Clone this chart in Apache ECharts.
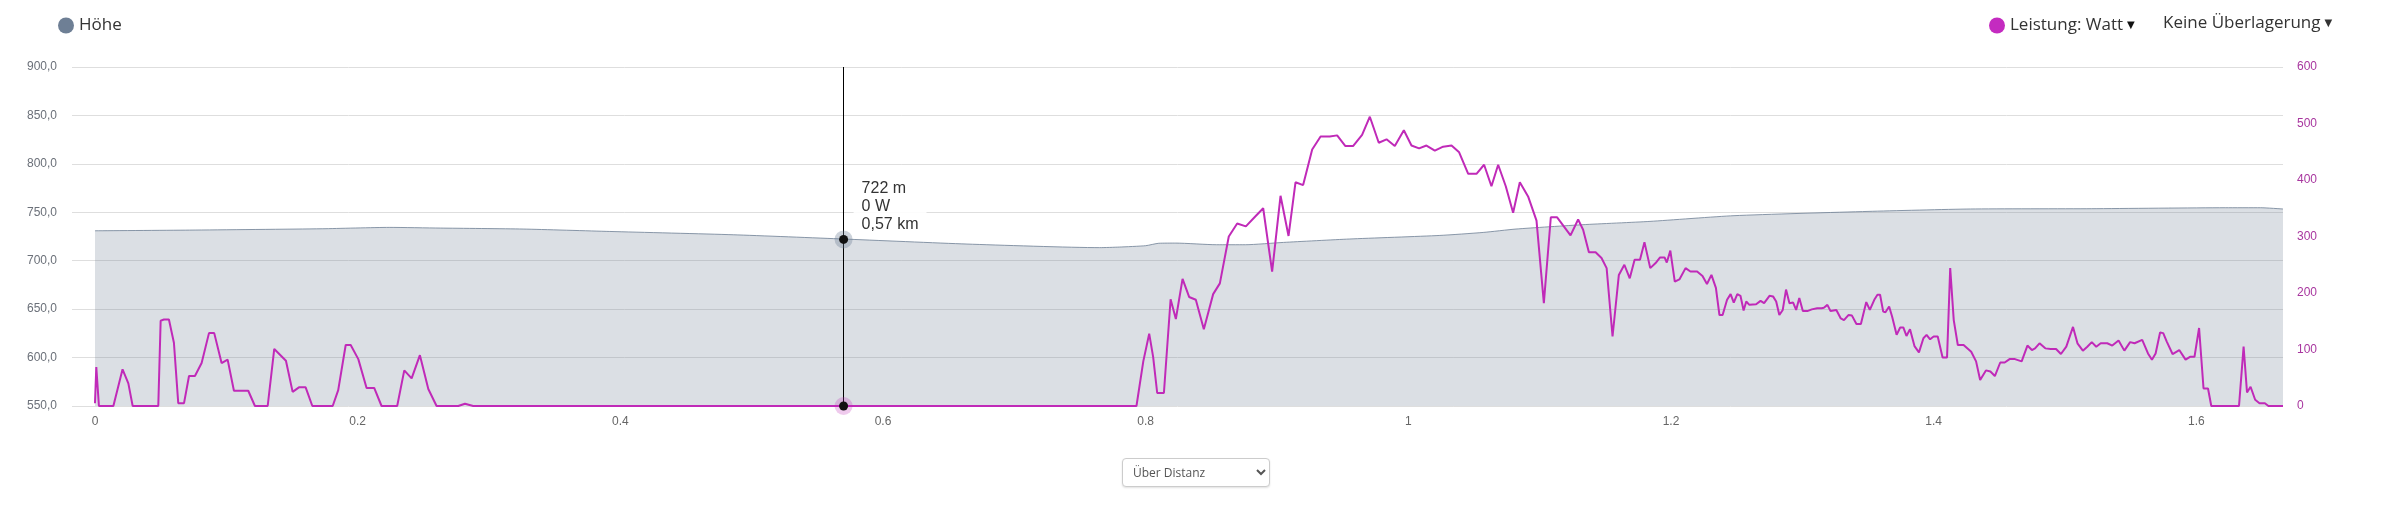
<!DOCTYPE html>
<html>
<head>
<meta charset="utf-8">
<script src="https://cdn.jsdelivr.net/npm/echarts@6/dist/echarts.min.js"></script>
<style>
html,body{margin:0;padding:0;background:#fff;}
#chart{position:absolute;left:0;top:0;width:2389px;height:511px;}
#mode{position:absolute;left:1122px;top:458px;width:148px;height:29px;font:12px 'Open Sans',sans-serif;color:#555;border:1px solid #ccc;border-radius:4px;box-shadow:0 1px 2px rgba(0,0,0,.12);background:#fff;padding:0 6px;}
</style>
</head>
<body>
<div id="chart"></div>
<select id="mode"><option>Über Distanz</option></select>
<script>
// ---- data ----
const elevKm = [0, 0.072, 0.173, 0.224, 0.263, 0.326, 0.392, 0.486, 0.57, 0.664, 0.765, 0.78, 0.80, 0.81, 0.823, 0.854, 0.876, 0.905, 0.955, 1.024, 1.057, 1.082, 1.133, 1.184, 1.248, 1.35, 1.428, 1.52, 1.622, 1.649, 1.666];
const elevM = [730.9, 731.6, 733, 734.4, 733.7, 732.7, 730.2, 726.8, 722.4, 717.2, 713.5, 714.1, 715.5, 718, 718.2, 716.5, 716.5, 718.9, 722.4, 726.1, 729.2, 732.7, 737.2, 740.6, 746.5, 750.9, 753.4, 753.7, 754.7, 754.7, 753.4];

const powerKm = [0, 0.001, 0.0025, 0.003, 0.014, 0.021, 0.0254, 0.0287, 0.0482, 0.050, 0.0525, 0.0563, 0.0601, 0.0634, 0.0678, 0.0716, 0.0761, 0.0812, 0.0868, 0.0908, 0.0964, 0.101, 0.1058, 0.1167, 0.1218, 0.1315, 0.1365, 0.1454, 0.1505, 0.1553, 0.1604, 0.1655, 0.181, 0.1852, 0.1909, 0.1947, 0.2005, 0.2068, 0.2126, 0.2182, 0.2301, 0.2355, 0.2411, 0.2474, 0.2538, 0.2601, 0.2766, 0.2817, 0.288,
  0.793, 0.7982, 0.8027, 0.8057, 0.8088, 0.8139, 0.819, 0.823, 0.8281, 0.8331, 0.8382, 0.8443, 0.8514, 0.8565, 0.8633, 0.8697, 0.8763, 0.8829, 0.8895, 0.8963, 0.9027, 0.9088, 0.9141, 0.9199, 0.9268, 0.9332, 0.9402, 0.9458, 0.9521, 0.9579, 0.9648, 0.9707, 0.9775, 0.9834, 0.9897, 0.9966, 1.0024, 1.0082, 1.0138, 1.0202, 1.0265, 1.0329, 1.0387, 1.0456, 1.0519, 1.0577, 1.0633, 1.0684, 1.0742, 1.0798, 1.0849, 1.0912, 1.0976, 1.1032, 1.1085, 1.1133, 1.1235, 1.1293, 1.1331, 1.1375, 1.1426,
  1.1471, 1.151, 1.1555, 1.1603, 1.1645, 1.1686, 1.1723, 1.1764, 1.1798, 1.1842, 1.1883, 1.1917, 1.1951, 1.1968, 1.1995, 1.2029, 1.2064, 1.2111, 1.2148, 1.2199, 1.224, 1.2274, 1.2308, 1.2342, 1.2369, 1.2393, 1.2427, 1.2454, 1.2478, 1.2505, 1.2529, 1.2553, 1.2573, 1.2597, 1.2648, 1.2682, 1.2709, 1.275, 1.2777, 1.2801, 1.2825, 1.2851, 1.2876, 1.2902, 1.293, 1.2953, 1.2977, 1.3004, 1.3038, 1.3072, 1.3113, 1.3147, 1.3164, 1.3191, 1.3215, 1.3259, 1.3293, 1.3317, 1.3351, 1.3378, 1.3412, 1.3446, 1.3487, 1.3514, 1.3548, 1.3572, 1.3592, 1.3616, 1.3633, 1.3661, 1.3684, 1.3718, 1.3745, 1.3769, 1.3793, 1.382, 1.3854, 1.3888, 1.3922, 1.3946, 1.3973, 1.4, 1.4031, 1.4068, 1.4102, 1.4126, 1.4153, 1.4184, 1.4228, 1.4286, 1.4323, 1.4354, 1.4398, 1.4432, 1.4466, 1.4507, 1.4541, 1.4578, 1.4619, 1.467, 1.4714, 1.4748, 1.4772, 1.4806, 1.485, 1.4891, 1.4932, 1.4969, 1.501, 1.5061, 1.5095, 1.5136, 1.517, 1.5204, 1.5238, 1.5272, 1.5322, 1.536, 1.5408, 1.5452, 1.5496, 1.553, 1.5588, 1.5632, 1.5662, 1.569, 1.5724, 1.5748, 1.5775, 1.5819, 1.587, 1.5918, 1.5952, 1.5986, 1.6021, 1.6055, 1.6089, 1.6114, 1.6325, 1.636, 1.6386, 1.6413, 1.6448, 1.6481, 1.6522, 1.6549, 1.666];
const powerW = [5, 69, 69, 0, 0, 65, 40, 0, 0, 151, 153, 153, 112, 5, 5, 53, 53, 76, 129, 129, 76, 82, 27, 27, 0, 0, 101, 80, 25, 33, 33, 0, 0, 28, 108, 108, 83, 32, 32, 0, 0, 63, 49, 90, 30, 0, 0, 4, 0,
  0, 79, 128, 87, 23, 23, 189, 154, 225, 193, 188, 136, 198, 217, 300, 323, 318, 334, 350, 238, 372, 301, 396, 391, 454, 477, 477, 479, 460, 460, 480, 512, 466, 472, 460, 488, 461, 456, 461, 452, 459, 461, 449, 411, 411, 427, 389, 427, 389, 342, 396, 371, 328, 182, 334, 334, 302, 330, 312, 272, 272,
  262, 244, 123, 232, 250, 226, 259, 259, 290, 244, 253, 263, 263, 254, 275, 220, 224, 244, 238, 238, 230, 216, 232, 209, 161, 161, 188, 198, 183, 198, 195, 169, 185, 179, 180, 186, 182, 195, 194, 185, 161, 170, 206, 182, 183, 170, 191, 168, 168, 171, 173, 173, 174, 179, 168, 170, 155, 152, 161, 160, 145, 145, 184, 170, 188, 197, 197, 167, 166, 176, 158, 126, 139, 139, 124, 136, 106, 95, 120, 126, 118, 123, 123, 86, 86, 244, 152, 108, 108, 96, 79, 46, 63, 61, 53, 77, 77, 83, 83, 79, 107, 99, 102, 111, 102, 101, 101, 92, 105, 140, 111, 98, 105, 113, 105, 111, 111, 107, 116, 98, 113, 111, 117, 93, 82, 93, 130, 129, 114, 92, 99, 82, 87, 87, 138, 31, 31, 0, 0, 105, 24, 34, 11, 5, 5, 0, 0];

const xTickValues = [0, 0.2, 0.4, 0.6, 0.8, 1, 1.2, 1.4, 1.6];
const cursorKm = 0.57;
const cursorElev = 722;
const cursorPower = 0;

// ---- chart ----
const elevData = elevKm.map((k, i) => [k, elevM[i]]);
const powerData = powerKm.map((k, i) => [k, powerW[i]]);

const slate = '#6e7f95';
const magenta = '#c02ab8';
const arrowRich = { arr: { fontSize: 10, color: '#111', padding: [0, 0, 0, 4], fontFamily: 'DejaVu Sans' } };

const chart = echarts.init(document.getElementById('chart'), null, { renderer: 'canvas' });
const option = {
  animation: false,
  backgroundColor: '#fff',
  grid: { left: 72, right: 106, top: 67, bottom: 105, containLabel: false },
  legend: [
    {
      left: 53, top: 12, icon: 'circle', itemWidth: 16, itemHeight: 16, selectedMode: false,
      textStyle: { fontFamily: 'Open Sans', fontSize: 17, color: '#333' },
      data: [{ name: 'Höhe', itemStyle: { color: slate } }]
    },
    {
      left: 1984, top: 12, icon: 'circle', itemWidth: 16, itemHeight: 16, selectedMode: false,
      formatter: (n) => n + '{arr|▼}',
      textStyle: { fontFamily: 'Open Sans', fontSize: 17, color: '#333', rich: arrowRich },
      data: [{ name: 'Leistung: Watt', itemStyle: { color: '#c42bc0' } }]
    }
  ],
  xAxis: {
    type: 'value', min: -0.0175, max: 1.666,
    axisLine: { show: false }, axisTick: { show: false }, splitLine: { show: false },
    axisLabel: {
      customValues: xTickValues, margin: 10,
      color: '#666', fontFamily: 'Liberation Sans', fontSize: 12,
      formatter: (v) => String(+v.toFixed(1))
    }
  },
  yAxis: [
    {
      type: 'value', min: 550, max: 900, interval: 50, position: 'left',
      axisLine: { show: false }, axisTick: { show: false },
      splitLine: { show: true, lineStyle: { color: '#dedede', width: 1 } },
      axisLabel: { margin: 15, color: '#6b7079', fontFamily: 'Liberation Sans', fontSize: 12,
        formatter: (v) => v.toFixed(1).replace('.', ',') }
    },
    {
      type: 'value', min: 0, max: 600, interval: 100, position: 'right',
      axisLine: { show: false }, axisTick: { show: false }, splitLine: { show: false },
      axisLabel: { margin: 14, color: '#a8369f', fontFamily: 'Liberation Sans', fontSize: 12 }
    }
  ],
  series: [
    {
      name: 'Höhe', type: 'line', yAxisIndex: 0, data: elevData, showSymbol: false, smooth: 0.2,
      lineStyle: { color: 'rgba(110,127,149,0.8)', width: 1 },
      itemStyle: { color: slate },
      areaStyle: { color: 'rgba(112,128,148,0.25)', opacity: 1, origin: 'start' },
      z: 2,
      markLine: {
        silent: true, symbol: ['none', 'none'], animation: false,
        label: { show: false },
        lineStyle: { color: '#000', width: 1, type: 'solid', opacity: 1 },
        emphasis: { disabled: true },
        data: [{ xAxis: cursorKm }]
      },
      markPoint: {
        silent: true, symbol: 'circle', animation: false, label: { show: false },
        data: [
          { coord: [cursorKm, cursorElev], symbolSize: 18, itemStyle: { color: 'rgba(110,127,149,0.35)' } },
          { coord: [cursorKm, cursorElev], symbolSize: 9, itemStyle: { color: '#111' } }
        ]
      }
    },
    {
      name: 'Leistung: Watt', type: 'line', yAxisIndex: 1, data: powerData, showSymbol: false,
      lineStyle: { color: magenta, width: 2 }, itemStyle: { color: magenta },
      z: 3,
      markPoint: {
        silent: true, symbol: 'circle', animation: false, label: { show: false },
        data: [
          { coord: [cursorKm, cursorPower], symbolSize: 18, itemStyle: { color: 'rgba(192,42,184,0.25)' } },
          { coord: [cursorKm, cursorPower], symbolSize: 9, itemStyle: { color: '#111' } }
        ]
      }
    }
  ]
};
chart.setOption(option);

// tooltip-like label next to the crosshair, positioned through the axis scales
const p = chart.convertToPixel({ xAxisIndex: 0, yAxisIndex: 0 }, [cursorKm, cursorElev]);
chart.setOption({
  graphic: [
    {
      type: 'text', x: 2163, y: 23,
      style: { text: 'Keine Überlagerung{arr|▼}', fontFamily: 'Open Sans', fontSize: 17, fill: '#333',
        verticalAlign: 'middle', rich: arrowRich }
    },
    {
      type: 'text', x: p[0] + 10, y: p[1] - 33, z: 100,
      style: {
        text: cursorElev + ' m\n' + cursorPower + ' W\n' + cursorKm.toFixed(2).replace('.', ',') + ' km',
        fontFamily: 'Liberation Sans', fontSize: 16, lineHeight: 18, fill: '#333',
        verticalAlign: 'middle', align: 'left',
        backgroundColor: 'rgba(255,255,255,0.9)', padding: [5, 8]
      }
    }
  ]
});
</script>
</body>
</html>
